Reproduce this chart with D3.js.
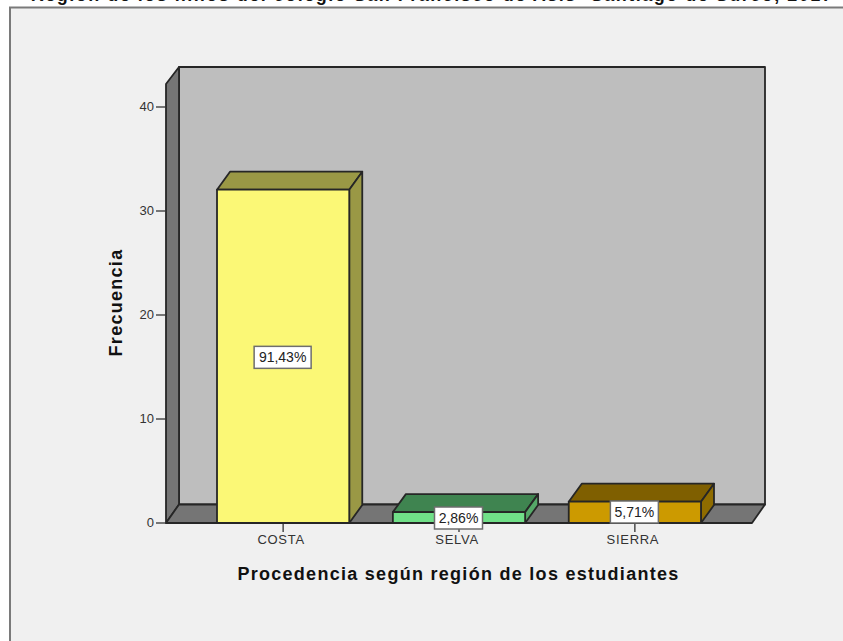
<!DOCTYPE html>
<html><head><meta charset="utf-8">
<script src="https://cdn.jsdelivr.net/npm/d3@7"></script>
<style>html,body{margin:0;padding:0;background:#fff}svg{display:block}</style>
</head><body><svg id="c" width="843" height="641"></svg>
<script>
const categories = ["COSTA","SELVA","SIERRA"];
const counts = [32,1,2];
const percentLabels = ["91,43%","2,86%","5,71%"];
const frontColors = ["#fbf876","#70e088","#cc9a00"];
const topColors = ["#9a9845","#3f8450","#7f5f00"];
const sideColors = ["#9a9845","#55a868","#8f6c00"];
const yTicks = [0,10,20,30,40];
const titleText = "Región de los niños del colegio San Francisco de Asís -Santiago de Surco, 2017";
const xTitle = "Procedencia según región de los estudiantes";
const yTitle = "Frecuencia";

const svg = d3.select("#c");
const font = "Arial, 'Liberation Sans', sans-serif";
const dx = 13, dy = 18;
const left = 166, right = 752, base = 523;
const y = d3.scaleLinear().domain([0,40]).range([base-0.5,106.5]);
const x = d3.scaleBand().domain(categories).range([left,right]).paddingInner(0.248).paddingOuter(0.29);
const floorTop = y(0)-dy;
const wallTop = 67;

svg.append("rect").attr("x",0).attr("y",0).attr("width",843).attr("height",641).attr("fill","#fff");
svg.append("rect").attr("x",10).attr("y",7.5).attr("width",850).attr("height",650)
  .attr("fill","#f0f0f0").attr("stroke","#7a7a7a").attr("stroke-width",2);
svg.append("text").attr("x",432).attr("y",1).attr("text-anchor","middle")
  .attr("font-family",font).attr("font-weight","bold").attr("font-size",18).attr("letter-spacing",1.5).attr("fill","#111").text(titleText);

const poly = (pts,fill)=>svg.append("polygon").attr("points",pts.map(d=>d.join(",")).join(" ")).attr("fill",fill)
  .attr("stroke","#262626").attr("stroke-width",1.8).attr("stroke-linejoin","round");
// walls
poly([[left+dx,wallTop],[right+dx,wallTop],[right+dx,floorTop],[left+dx,floorTop]],"#bebebe");
poly([[left,wallTop+17],[left+dx,wallTop],[left+dx,floorTop],[left,base]],"#757575");
poly([[left,base],[left+dx,floorTop],[right+dx,floorTop],[right,base]],"#757575");

// axes
const yAxis = d3.axisLeft(y).tickValues(yTicks).tickSize(10).tickPadding(2);
const ga = svg.append("g").attr("transform",`translate(${left},0)`).call(yAxis);
ga.select(".domain").remove();
ga.selectAll("line").attr("stroke","#333").attr("stroke-width",1.3);
ga.selectAll("text").attr("font-family",font).attr("font-size",13).attr("fill","#333");
const xAxis = d3.axisBottom(x).tickSize(9).tickPadding(3);
const gx = svg.append("g").attr("transform",`translate(0,${base})`).call(xAxis);
gx.select(".domain").remove();
gx.selectAll("line").attr("stroke","#333").attr("stroke-width",1.3);
gx.selectAll("text").attr("font-family",font).attr("font-size",13).attr("letter-spacing",0.7).attr("dx",-2).attr("fill","#333");

// bars
categories.forEach((c,i)=>{
  const x0=x(c), x1=x0+x.bandwidth(), yt=y(counts[i]);
  poly([[x0,yt],[x0+dx,yt-dy],[x1+dx,yt-dy],[x1,yt]],topColors[i]);
  poly([[x1,yt],[x1+dx,yt-dy],[x1+dx,base-dy],[x1,base]],sideColors[i]);
  poly([[x0,yt],[x1,yt],[x1,base],[x0,base]],frontColors[i]);
});
// labels
categories.forEach((c,i)=>{
  const cx=x(c)+x.bandwidth()/2-0.5, cy=(y(counts[i])+base)/2;
  const w=i===0?57:48;
  const ly = i===0?cy+1:(i===1?base-5:base-11);
  svg.append("rect").attr("x",cx-w/2).attr("y",ly-11).attr("width",w).attr("height",22)
    .attr("fill","#fff").attr("stroke","#6e6e6e").attr("stroke-width",1.5);
  svg.append("text").attr("x",cx).attr("y",ly+5).attr("text-anchor","middle")
    .attr("font-family",font).attr("font-size",14).attr("fill","#222").text(percentLabels[i]);
});
// titles
svg.append("text").attr("x",458.5).attr("y",580).attr("text-anchor","middle")
  .attr("font-family",font).attr("font-weight","bold").attr("font-size",18).attr("letter-spacing",1.28).attr("fill","#111").text(xTitle);
svg.append("text").attr("transform","translate(122,302.5) rotate(-90)").attr("text-anchor","middle")
  .attr("font-family",font).attr("font-weight","bold").attr("font-size",18).attr("letter-spacing",1.28).attr("fill","#111").text(yTitle);
</script></body></html>
